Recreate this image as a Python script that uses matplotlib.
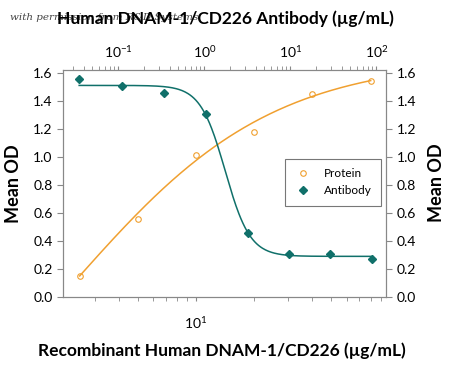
import numpy as np
import matplotlib
matplotlib.use("Agg")
import matplotlib.pyplot as plt

plt.rcParams['font.family'] = ['Lato', 'DejaVu Sans']
plt.rcParams['mathtext.default'] = 'regular'

# Recombinant protein (bottom axis)
protein_conc = [2.5, 5, 10, 20, 40, 80]
protein_od = [0.15, 0.56, 1.01, 1.18, 1.45, 1.54]
# 4PL fit: bottom, top, ec50, hill
protein_fit = (-1.5, 1.7, 2.32, 0.84)

# Antibody (top axis)
antibody_conc = [0.035, 0.11, 0.34, 1.04, 3.2, 9.6, 29, 90]
antibody_od = [1.555, 1.505, 1.455, 1.305, 0.455, 0.305, 0.305, 0.274]
antibody_fit = (0.29, 1.51, 1.75, -3.0)

orange = '#f0a030'
teal = '#10706a'
spine_col = '#888888'


def four_pl(x, p):
    lo, hi, c, b = p
    return lo + (hi - lo) / (1 + (c / x) ** b)


fig = plt.figure(figsize=(4.5, 3.66), dpi=100)
ax = fig.add_axes([63/450, 69/366, 323/450, 227/366])

xp = np.logspace(np.log10(protein_conc[0]), np.log10(protein_conc[-1]), 200)
ax.plot(xp, four_pl(xp, protein_fit), color=orange, lw=1.1)
pr, = ax.plot(protein_conc, protein_od, 'o', mfc='none', mec=orange, ms=4,
              mew=0.8, label='Protein')
ax.set_xscale('log')
ax.set_xlim(2.05, 96)
ax.set_ylim(0, 1.62)
ax.set_yticks(np.arange(0, 1.61, 0.2))
ax.yaxis.set_major_formatter(matplotlib.ticker.FormatStrFormatter('%.1f'))
ax.tick_params(axis='y', left=True, right=True, labelleft=True,
               labelright=True, labelsize=10, direction='out', length=4,
               color=spine_col)
ax.tick_params(axis='x', which='both', direction='out', length=3,
               labelsize=10, color=spine_col, pad=10)
ax.xaxis.set_minor_formatter(matplotlib.ticker.NullFormatter())

ax2 = ax.twiny()
xa = np.logspace(np.log10(antibody_conc[0]), np.log10(antibody_conc[-1]), 300)
ax2.plot(xa, four_pl(xa, antibody_fit), color=teal, lw=1.1)
ab, = ax2.plot(antibody_conc, antibody_od, 'D', color=teal, ms=4,
               label='Antibody')
ax2.set_xscale('log')
ax2.set_xlim(0.0227, 130)
ax2.tick_params(axis='x', which='both', direction='out', length=3,
                labelsize=10, color=spine_col, pad=4)
ax2.xaxis.set_minor_formatter(matplotlib.ticker.NullFormatter())

for a in (ax, ax2):
    for s in a.spines.values():
        s.set_color(spine_col)
        s.set_linewidth(0.8)

leg = ax.legend(handles=[pr, ab], loc='upper left',
                bbox_to_anchor=((285 - 63)/323, 1 - (159 - 70)/227),
                fontsize=8.5, frameon=True, fancybox=False,
                edgecolor='#555555', handletextpad=1.0, borderpad=0.8,
                labelspacing=0.5, handlelength=1.5, borderaxespad=0)
leg.get_frame().set_linewidth(0.8)

ax.set_ylabel('Mean OD', fontsize=13, fontweight='bold', labelpad=8)
fig.text(436/450, 1 - 183/366, 'Mean OD', rotation=90, fontsize=13,
         fontweight='bold', ha='center', va='center')
fig.text(10/450, 1 - 17/366, 'with permission from R&D Systems',
         fontsize=7.5, style='italic', family='DejaVu Serif',
         color='#444444', ha='left', va='center')
fig.text(225/450, 1 - 19/366, 'Human DNAM-1/CD226 Antibody (\u00b5g/mL)',
         fontsize=12.5, fontweight='bold', ha='center', va='center')
fig.text(222/450, 1 - 351/366, 'Recombinant Human DNAM-1/CD226 (\u00b5g/mL)',
         fontsize=12.5, fontweight='bold', ha='center', va='center')

fig.savefig('out.png', dpi=100)
